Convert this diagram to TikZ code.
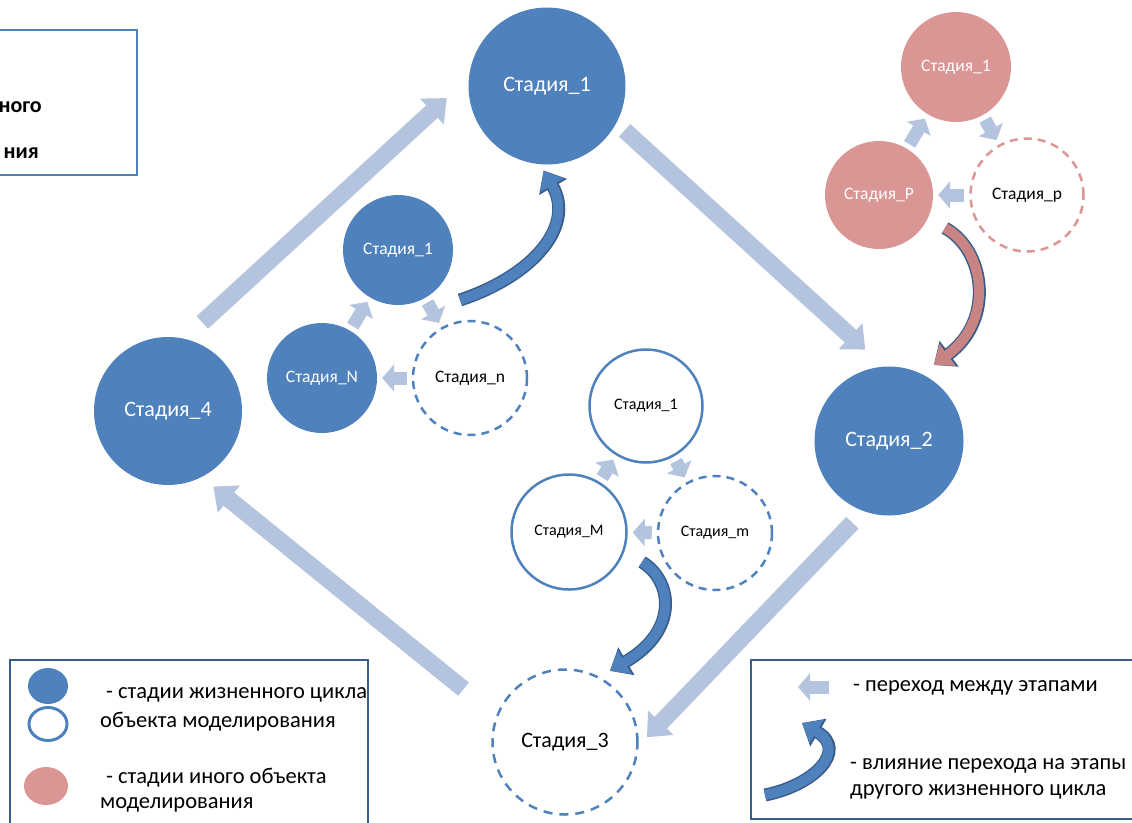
\documentclass[tikz,border=0pt]{standalone}
\usepackage{fontspec}
\setmainfont{Carlito}
\usetikzlibrary{arrows.meta}
\usetikzlibrary{positioning}
\usetikzlibrary{shapes.geometric}
\definecolor{mblue}{RGB}{79,129,189}
\definecolor{mdark}{RGB}{56,93,138}
\definecolor{mlight}{RGB}{180,196,223}
\definecolor{mpink}{RGB}{217,150,148}
\definecolor{mrose}{RGB}{200,132,130}
\tikzset{bigstage/.style = {circle, inner sep = 0, minimum size = #1, font = \fontsize{22}{26}\selectfont}}
\tikzset{smallstage/.style = {circle, inner sep = 0, minimum size = #1, font = \fontsize{17.5}{21}\selectfont}}
\tikzset{ownstage/.style = {fill = mblue, text = white}}
\tikzset{otherstage/.style = {fill = mpink, text = white}}
\tikzset{openstage/.style = {draw = mblue, line width = 2.5, text = black}}
\tikzset{nextstage/.style = {draw = #1, line width = 2.5, dash pattern = on 8pt off 6pt, text = black}}
\tikzset{stagearrow/.style = {draw = mlight, line width = 17, -{Triangle[length = 20pt, width = 34pt]}}}
\tikzset{hop/.style = {draw = mlight, line width = 13, -{Triangle[length = 12pt, width = 27pt]}, shorten < = 5pt, shorten > = 5pt}}
\tikzset{influence/.style = {draw = #1, line width = 10, -{Triangle[length = 17pt, width = 26pt]}, preaction = {draw = mdark, line width = 13, -{Triangle[length = 19pt, width = 31pt]}}}}
\tikzset{legendtext/.style = {anchor = west, inner sep = 0, font = \fontsize{22.5}{27}\selectfont}}

\begin{document}
\begin{tikzpicture}[x = 1pt, y = -1pt]
  \useasboundingbox (0,0) rectangle (1132,822);
  % title box, cut at the left edge
  \draw[mblue, line width = 1.2] (-5,30) rectangle (137,175);
  \node[anchor = east, inner sep = 0, font = \bfseries\fontsize{22}{26}\selectfont] (Tone) at (42,107) {ного};
  \node[anchor = east, inner sep = 0, font = \bfseries\fontsize{22}{26}\selectfont] (Ttwo) at (39,153) {ния};

  % life cycle of the object
  \node[bigstage = 157, ownstage] (S1) at (547,86) {Стадия\_1};
  \node[bigstage = 149, ownstage] (S2) at (889,441) {Стадия\_2};
  \node[bigstage = 145, nextstage = mblue, dash pattern = on 9pt off 7pt] (S3) at (565,742) {Стадия\_3};
  \node[bigstage = 148, ownstage] (S4) at (168,411) {Стадия\_4};
  \draw[stagearrow, shorten < = 24pt, shorten > = 30pt] (S4.77) -- (S1.174);
  \draw[stagearrow, shorten < = 11pt, shorten > = 25pt] (S1.332) -- (S2.94);
  \draw[stagearrow, shorten < = 16pt, shorten > = 12pt] (S2.250) -- (S3.357);
  \draw[stagearrow, shorten < = 42pt, shorten > = 15pt] (S3.159) -- (S4.297);

  % inner cycles
  \node[smallstage = 110, ownstage] (A1) at (398,250) {Стадия\_1};
  \node[smallstage = 110, ownstage] (AN) at (322,378) {Стадия\_N};
  \node[smallstage = 114, nextstage = mblue] (An) at (470,378) {Стадия\_n};
  \node[smallstage = 110, otherstage] (B1) at (956,67) {Стадия\_1};
  \node[smallstage = 108, otherstage] (BP) at (879,195) {Стадия\_P};
  \node[smallstage = 113, nextstage = mpink] (Bp) at (1027,195) {Стадия\_p};
  \node[smallstage = 113, openstage, font = \fontsize{16}{19}\selectfont] (C1) at (646,406) {Стадия\_1};
  \node[smallstage = 115, openstage, font = \fontsize{16}{19}\selectfont] (CM) at (569,532) {Стадия\_M};
  \node[smallstage = 114, nextstage = mblue, font = \fontsize{16}{19}\selectfont] (Cm) at (715,533) {Стадия\_m};
  \foreach \from/\to in {AN/A1, A1/An, An/AN, BP/B1, B1/Bp, Bp/BP, CM/C1, C1/Cm, Cm/CM}
    \draw[hop] (\from) -- (\to);

  % influence on the other cycle
  \coordinate (Atail) at (460,300);
  \coordinate (Btail) at (945,228);
  \coordinate (Ctail) at (642,562);
  \draw[influence = mblue, shorten > = 7pt] (Atail) .. controls (535,275) and (575,225) .. (S1.265);
  \draw[influence = mrose, shorten > = 15pt] (Btail) .. controls (985,250) and (995,320) .. (S2.64);
  \draw[influence = mblue, shorten > = 12pt] (Ctail) .. controls (672,580) and (680,630) .. (S3.62);

  % legend, left
  \draw[mdark, line width = 2.2] (10,840) -- (10,660) -- (368,660) -- (368,840);
  \node[ellipse, fill = mblue, minimum width = 40, minimum height = 36] (Lown) at (48,686) {};
  \node[ellipse, draw = mblue, line width = 3, minimum width = 38, minimum height = 33] (Lopen) at (48,724) {};
  \node[ellipse, fill = mpink, minimum width = 44, minimum height = 38] (Lother) at (46,786) {};
  \node[legendtext] (Lowntext) at (106,695) {- стадии жизненного цикла};
  \node[legendtext] (Lopentext) at (100,722) {объекта моделирования};
  \node[legendtext] (Lothertext) at (106,778) {- стадии иного объекта};
  \node[legendtext] (Lothertext2) at (100,805) {моделирования};

  % legend, right
  \draw[mdark, line width = 2.2] (1140,660) -- (751,660) -- (751,819) -- (1140,819);
  \coordinate (Lhopfrom) at (829,687);
  \coordinate (Lhopto) at (798,687);
  \draw[hop, shorten < = 0pt, shorten > = 0pt] (Lhopfrom) -- (Lhopto);
  \node[legendtext] (Lhoptext) at (853,688) {- переход между этапами};
  \coordinate (Ltail) at (765,795);
  \coordinate (Lhead) at (802,723);
  \draw[influence = mblue] (Ltail) .. controls (815,785) and (848,750) .. (Lhead);
  \node[legendtext] (Linftext) at (850,766) {- влияние перехода на этапы};
  \node[legendtext] (Linftext2) at (850,792) {другого жизненного цикла};
\end{tikzpicture}
\end{document}
